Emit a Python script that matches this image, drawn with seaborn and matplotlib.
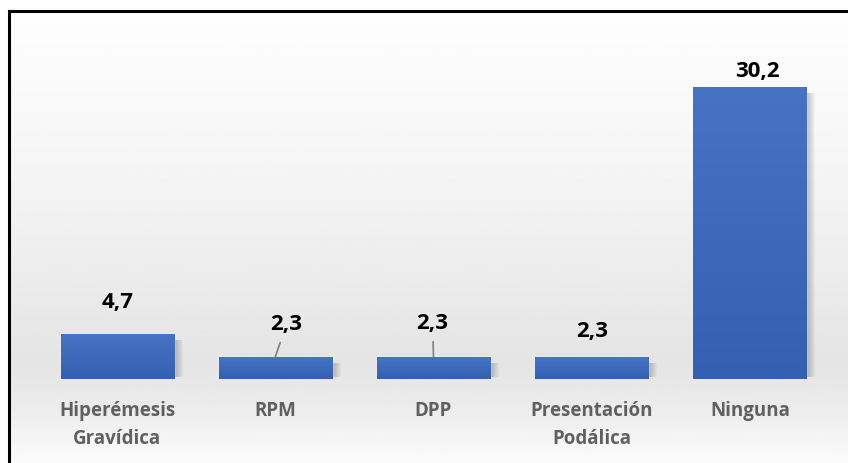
import numpy as np
import matplotlib
matplotlib.use("Agg")
import matplotlib.pyplot as plt
from matplotlib.patches import Rectangle
from matplotlib.colors import LinearSegmentedColormap
import seaborn as sns

categories = ["Hiperémesis\nGravídica", "RPM", "DPP", "Presentación\nPodálica", "Ninguna"]
values = [4.7, 2.3, 2.3, 2.3, 30.2]
value_labels = ["4,7", "2,3", "2,3", "2,3", "30,2"]
# label offsets from the bar top (pixels) and whether a leader line is drawn
label_dx = [1, 11, -1, 0, 8]
label_dy = [31, 32, 33, 25, 15]
leader = [False, True, True, False, False]

sns.set_theme(style="white")
plt.rcParams["font.family"] = ["Open Sans", "DejaVu Sans"]

W, H = 848, 463
fig = plt.figure(figsize=(W / 100, H / 100), dpi=100)
fig.patch.set_facecolor("white")

# background panel with vertical gradient and top/left border
bg = fig.add_axes([0, 0, 1, 1], zorder=-5)
bg.set_xlim(0, W)
bg.set_ylim(H, 0)
bg.axis("off")
ys = np.linspace(0, 1, 200)
prof = np.interp(ys, [0, 0.35, 0.78, 0.88, 1.0], [0.995, 0.96, 0.895, 0.925, 0.985])
bg.imshow(np.repeat(prof[:, None], 2, axis=1), cmap="gray", vmin=0, vmax=1,
          extent=[9, W, H, 11], aspect="auto", interpolation="bilinear")
bg.plot([8.5, 8.5], [H, 10.5], color="black", lw=2.2, solid_capstyle="projecting")
bg.plot([8.5, W], [10.5, 10.5], color="black", lw=2.2, solid_capstyle="projecting")

ax = fig.add_axes([38 / W, 84 / H, 791 / W, 338.5 / H])
ax.patch.set_alpha(0)
sns.barplot(x=categories, y=values, width=0.715, color="#3f69ba", saturation=1, ax=ax)
ax.set_xlim(-0.5, 4.5)
ax.set_ylim(0, 35)

px = 1 / 158.0
bar_cmap = LinearSegmentedColormap.from_list("bar", ["#3360b0", "#4673c4"])
for p in list(ax.patches):
    x, w, h = p.get_x(), p.get_width(), p.get_height()
    # soft shadow to the right
    for k in range(1, 10):
        ax.add_patch(Rectangle((x + k * px, 0.25), w, h - 0.9, facecolor="black",
                               alpha=0.028, lw=0, zorder=0.5))
    p.set_zorder(2)
    grad = np.linspace(0, 1, 100)[:, None]
    im = ax.imshow(grad, cmap=bar_cmap, extent=[x, x + w, 0, h], origin="lower",
                   aspect="auto", zorder=2.5, interpolation="bilinear")
    im.set_clip_path(p)
ax.set_xlim(-0.5, 4.5)
ax.set_ylim(0, 35)

for i, p in enumerate(ax.patches[:len(values)]):
    xc = p.get_x() + p.get_width() / 2
    top = p.get_height()
    ap = dict(arrowstyle="-", color="#7f7f7f", lw=1.2, shrinkA=3, shrinkB=0) if leader[i] else None
    ax.annotate(value_labels[i], xy=(xc, top), xytext=(label_dx[i], label_dy[i]),
                textcoords="offset pixels", ha="center", va="center",
                fontsize=16, fontweight="bold", color="black", arrowprops=ap,
                annotation_clip=False)

for s in ax.spines.values():
    s.set_visible(False)
ax.set_yticks([])
ax.tick_params(axis="x", length=0, pad=16)
for t in ax.get_xticklabels():
    t.set_fontsize(13.5)
    t.set_fontweight("bold")
    t.set_color("#606060")
    t.set_linespacing(1.5)

fig.savefig("out.png", dpi=100)
